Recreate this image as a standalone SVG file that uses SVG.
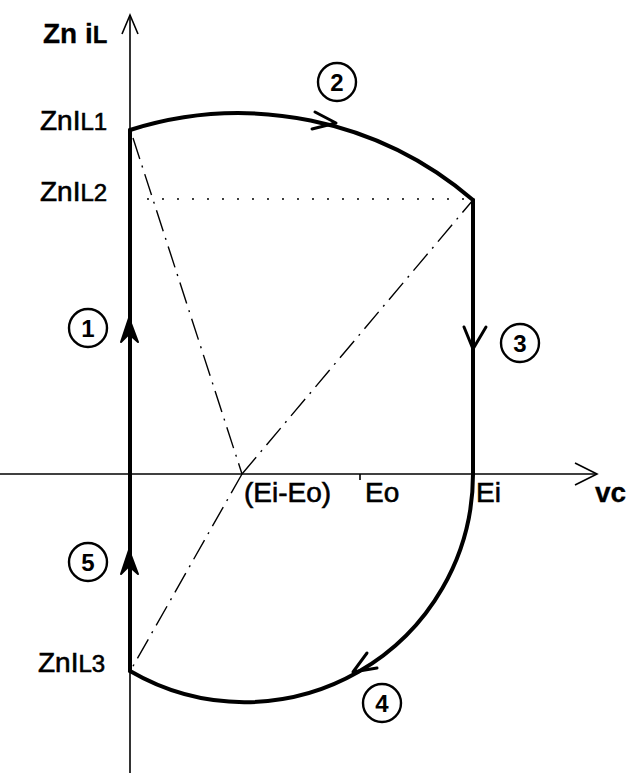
<svg xmlns="http://www.w3.org/2000/svg" width="629" height="773" viewBox="0 0 629 773">
<style>
.ax{stroke:#000;stroke-width:1.6;fill:none}
.thick{stroke:#000;stroke-width:4;fill:none;stroke-linecap:round}
.dd{stroke:#000;stroke-width:1.4;fill:none;stroke-dasharray:22 7 2 7}
.dot{stroke:#000;stroke-width:2;fill:none;stroke-dasharray:0 15;stroke-linecap:round}
.ah{stroke:#000;stroke-width:3;fill:none;stroke-linecap:round;stroke-linejoin:round}
.ahf{stroke:#000;stroke-width:2;fill:#000;stroke-linejoin:round}
.lbl{font-family:"Liberation Sans",Arial,sans-serif;font-size:28px;fill:#000;stroke:#000;stroke-width:0.6}
.b{font-weight:bold;stroke-width:0.3}
.num{font-family:"Liberation Sans",Arial,sans-serif;font-size:24px;font-weight:bold;fill:#000;text-anchor:middle}
.circ{stroke:#000;stroke-width:2.4;fill:#fff}
</style>
<g id="axes">
<line class="ax" x1="130" y1="773" x2="130" y2="15"/>
<polyline class="ax" points="122,34 130,15 138,34"/>
<line class="ax" x1="0" y1="474" x2="597" y2="474"/>
<polyline class="ax" points="575,463 597,474 575,485"/>
<line class="ax" x1="360" y1="474" x2="360" y2="480"/>
</g>
<g id="connectors">
<line class="thick" x1="130" y1="130" x2="130" y2="671"/>
<path class="thick" d="M130,130 A360,360 0 0 1 473,200"/>
<line class="thick" x1="473" y1="200" x2="473" y2="474"/>
<path class="thick" d="M473,474 A228,228 0 0 1 130,671"/>
<line class="dd" x1="133" y1="138" x2="242" y2="474"/>
<line class="dd" x1="242" y1="474" x2="473" y2="200"/>
<line class="dd" x1="242" y1="474" x2="132" y2="668"/>
<line class="dot" x1="148" y1="199" x2="473" y2="199"/>
<path class="ahf" d="M129,318 L121,342 L129,334 L138,342 Z"/>
<polyline class="ah" points="315,112 336,123 312,129"/>
<polyline class="ah" points="464,327 473,349 486,327"/>
<polyline class="ah" points="367,653 353,672 377,668"/>
<path class="ahf" d="M129,550 L121,574 L129,566 L138,574 Z"/>
</g>
<g id="labels">
<text class="lbl b" x="43" y="43">Zn i<tspan font-size="24">L</tspan></text>
<text class="lbl" x="40" y="130">ZnI<tspan font-size="24">L1</tspan></text>
<text class="lbl" x="40" y="201">ZnI<tspan font-size="24">L2</tspan></text>
<text class="lbl" x="38" y="672">ZnI<tspan font-size="24">L3</tspan></text>
<text class="lbl" x="244" y="502">(Ei-Eo)</text>
<text class="lbl" x="365" y="502">Eo</text>
<text class="lbl" x="476" y="502">Ei</text>
<text class="lbl b" x="595" y="502">vc</text>
</g>
<g id="mode1"><circle class="circ" cx="88" cy="328" r="19"/><text class="num" x="88" y="337">1</text></g>
<g id="mode2"><circle class="circ" cx="337" cy="82" r="19"/><text class="num" x="337" y="91">2</text></g>
<g id="mode3"><circle class="circ" cx="520" cy="343" r="19"/><text class="num" x="520" y="352">3</text></g>
<g id="mode4"><circle class="circ" cx="382" cy="703" r="19"/><text class="num" x="382" y="712">4</text></g>
<g id="mode5"><circle class="circ" cx="88" cy="562" r="19"/><text class="num" x="88" y="571">5</text></g>
</svg>
